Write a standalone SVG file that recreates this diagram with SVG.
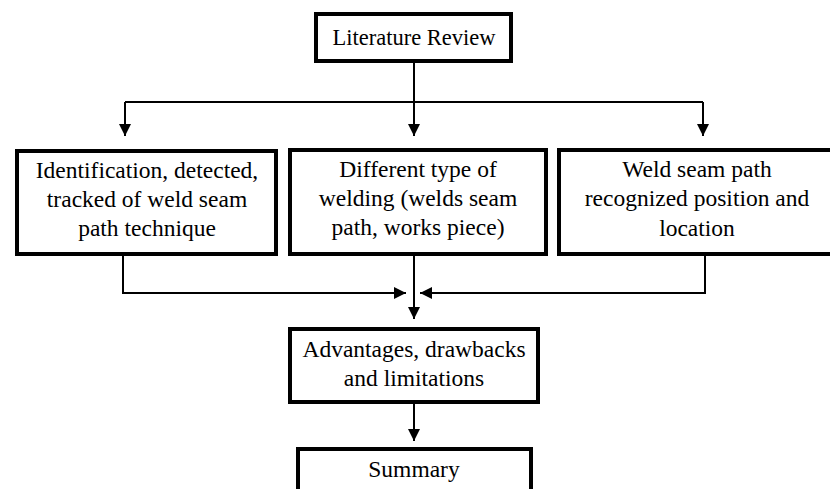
<svg xmlns="http://www.w3.org/2000/svg" width="830" height="489" viewBox="0 0 830 489">
<style>
.box{fill:#fff;stroke:#000;stroke-width:4}
.t{font-family:'Liberation Serif','Times New Roman',serif;font-size:23.5px;fill:#000;text-anchor:middle}
.c{fill:none;stroke:#000;stroke-width:2}
</style>
<defs>
<marker id="ah" markerUnits="userSpaceOnUse" markerWidth="14" markerHeight="14" refX="12" refY="6" orient="auto">
<path d="M0,0 L12,6 L0,12 Z" fill="#000"/>
</marker>
</defs>
<rect width="830" height="489" fill="#fff"/>
<g id="connectors">
<path class="c" d="M414,63 V136" marker-end="url(#ah)"/>
<path class="c" d="M125,102 H703"/>
<path class="c" d="M125,102 V136" marker-end="url(#ah)"/>
<path class="c" d="M703,102 V136" marker-end="url(#ah)"/>
<path class="c" d="M123,256 V293 H406" marker-end="url(#ah)"/>
<path class="c" d="M705,256 V293 H420" marker-end="url(#ah)"/>
<path class="c" d="M414,246 V319" marker-end="url(#ah)"/>
<path class="c" d="M414,404 V441" marker-end="url(#ah)"/>
</g>
<g id="literature-review">
<rect class="box" x="316" y="14" width="195" height="47"/>
<text class="t" x="414" y="45" style="font-size:22.5px">Literature Review</text>
</g>
<g id="identification">
<rect class="box" x="17" y="151" width="259" height="103"/>
<text class="t" x="147" y="178">Identification, detected,</text>
<text class="t" x="147" y="207">tracked of weld seam</text>
<text class="t" x="147" y="236">path technique</text>
</g>
<g id="different-type">
<rect class="box" x="290" y="150" width="256" height="104"/>
<text class="t" x="418" y="177">Different type of</text>
<text class="t" x="418" y="206">welding (welds seam</text>
<text class="t" x="418" y="235">path, works piece)</text>
</g>
<g id="weld-seam">
<rect class="box" x="559" y="150" width="276" height="104"/>
<text class="t" x="697" y="177">Weld seam path</text>
<text class="t" x="697" y="206">recognized position and</text>
<text class="t" x="697" y="236">location</text>
</g>
<g id="advantages">
<rect class="box" x="290" y="329" width="248" height="73"/>
<text class="t" x="414" y="357">Advantages, drawbacks</text>
<text class="t" x="414" y="386">and limitations</text>
</g>
<g id="summary">
<rect class="box" x="298" y="449" width="233" height="60"/>
<text class="t" x="414" y="477">Summary</text>
</g>
</svg>
